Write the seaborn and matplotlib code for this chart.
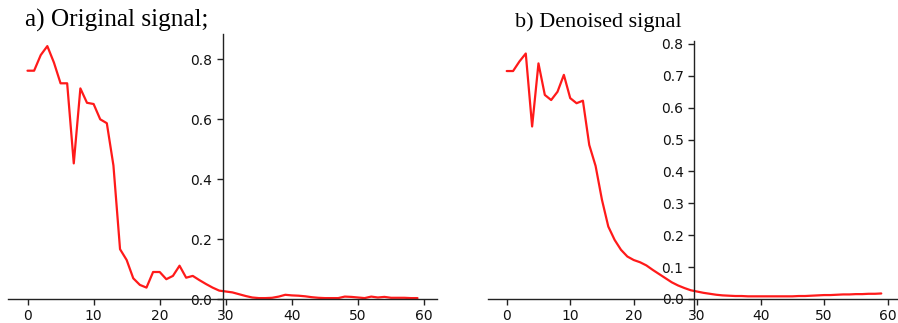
import numpy as np
import pandas as pd
import matplotlib
matplotlib.use("Agg")
import matplotlib.pyplot as plt
import seaborn as sns

# ---- data ----
samples = list(range(60))
original = [0.761, 0.761, 0.813, 0.843, 0.788, 0.719, 0.719, 0.452, 0.702, 0.654,
            0.650, 0.599, 0.586, 0.445, 0.166, 0.130, 0.069, 0.047, 0.038, 0.090,
            0.090, 0.066, 0.077, 0.111, 0.071, 0.077, 0.063, 0.050, 0.038, 0.028,
            0.025, 0.022, 0.016, 0.010, 0.005, 0.003, 0.003, 0.004, 0.008, 0.014,
            0.012, 0.011, 0.009, 0.006, 0.004, 0.003, 0.003, 0.003, 0.008, 0.007,
            0.005, 0.003, 0.008, 0.005, 0.007, 0.004, 0.004, 0.004, 0.003, 0.003]
denoised = [0.715, 0.715, 0.745, 0.770, 0.541, 0.739, 0.640, 0.624, 0.650, 0.703,
            0.630, 0.614, 0.622, 0.483, 0.417, 0.311, 0.227, 0.185, 0.154, 0.133,
            0.122, 0.115, 0.105, 0.091, 0.078, 0.065, 0.052, 0.042, 0.034, 0.027,
            0.023, 0.019, 0.016, 0.013, 0.011, 0.010, 0.009, 0.009, 0.008, 0.008,
            0.008, 0.008, 0.008, 0.008, 0.008, 0.008, 0.009, 0.009, 0.010, 0.011,
            0.012, 0.012, 0.013, 0.014, 0.014, 0.015, 0.015, 0.016, 0.016, 0.017]
titles = ["a) Original signal;", "b) Denoised signal"]
yticks_a = [0.0, 0.2, 0.4, 0.6, 0.8]
yticks_b = [0.0, 0.1, 0.2, 0.3, 0.4, 0.5, 0.6, 0.7, 0.8]
xticks = [0, 10, 20, 30, 40, 50, 60]

df = pd.DataFrame({"n": samples, "original": original, "denoised": denoised})

sns.set_style("white")
plt.rcParams["font.family"] = ["DejaVu Sans"]

W, H = 898, 323
fig = plt.figure(figsize=(W / 100, H / 100), dpi=100)

def px_axes(x0, x1, ytop, ybot):
    return [x0 / W, 1 - ybot / H, (x1 - x0) / W, (ybot - ytop) / H]

ax1 = fig.add_axes(px_axes(8, 437, 33.5, 311.6))
ax2 = fig.add_axes(px_axes(488, 900, 41.4, 311))

for ax, col, yt, title, tx, fs in [(ax1, "original", yticks_a, titles[0], 25, 18.2),
                                   (ax2, "denoised", yticks_b, titles[1], 515, 16.0)]:
    sns.lineplot(data=df, x="n", y=col, ax=ax, color="#ff1a1a", linewidth=1.6)
    ax.set_xlabel("")
    ax.set_ylabel("")
    ax.set_yticks(yt)
    ax.set_yticklabels([f"{v:.1f}" for v in yt])
    ax.set_xticks(xticks)
    ax.spines["left"].set_position("center")
    ax.spines["bottom"].set_position("zero")
    ax.spines["right"].set_visible(False)
    ax.spines["top"].set_visible(False)
    for s in ("left", "bottom"):
        ax.spines[s].set_color("#222222")
        ax.spines[s].set_linewidth(1.0)
    ax.tick_params(axis="both", which="both", length=4, width=1, color="#222222",
                   labelsize=10, labelcolor="#111111", left=True, bottom=True)
    fig.text(tx / W, 1 - 27 / H, title, family="Liberation Serif", fontsize=fs,
             va="baseline", ha="left", color="black")

ax1.set_xlim(-2.95, 61.95)
ax1.set_ylim(-0.042, 0.885)
ax2.set_xlim(-2.95, 61.95)
ax2.set_ylim(-0.038, 0.808)

fig.savefig("out.png", dpi=100)
